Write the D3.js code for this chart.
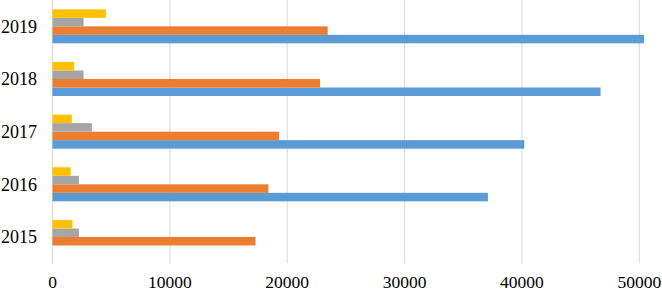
<!DOCTYPE html>
<html>
<head>
  <meta charset="utf-8">
  <title>Bar Chart</title>
  <script src="https://d3js.org/d3.v7.min.js"></script>
  <style>
    body { margin: 0; background: white; }
  </style>
</head>
<body>
<div id="output"></div>
<script type="text/javascript">

  // data
  var years = ["2015", "2016", "2017", "2018", "2019"];
  var seriesNames = ["s1", "s2", "s3", "s4"];
  var s1 = [0, 37100, 40200, 46700, 50400];
  var s2 = [17300, 18400, 19300, 22800, 23450];
  var s3 = [2250, 2250, 3350, 2650, 2650];
  var s4 = [1700, 1550, 1650, 1850, 4550];
  var xTicks = [0, 10000, 20000, 30000, 40000, 50000];
  var colors = ["#5b9bd5", "#ed7d31", "#a5a5a5", "#ffc000"];

  var allSeries = [s1, s2, s3, s4];
  var rows = years.map(function(y, i) {
    return { year: y, values: allSeries.map(function(s, k) { return { k: k, v: s[i] }; }) };
  });

  var w = 662, h = 292;
  var plotLeft = 52.5, plotRight = 639.3, plotTop = 0, plotBottom = 263.3;
  var serif = "'Liberation Serif', 'Times New Roman', Times, serif";

  var x = d3.scaleLinear()
          .domain([0, 50000])
          .range([plotLeft, plotRight]);

  var y = d3.scaleBand()
          .domain(years.slice().reverse())
          .range([plotTop, plotBottom])
          .paddingInner(0.354)
          .paddingOuter(0.177);

  // series 1 at the bottom of each group
  var ySub = d3.scaleBand()
          .domain([3, 2, 1, 0])
          .range([0, y.bandwidth()]);

  var svg = d3.select("#output").append("svg")
          .attr("width", w)
          .attr("height", h);

  svg.append("g")
          .selectAll("line")
          .data(xTicks)
          .enter()
          .append("line")
          .attr("x1", function(d) { return x(d); })
          .attr("x2", function(d) { return x(d); })
          .attr("y1", plotTop)
          .attr("y2", plotBottom)
          .attr("stroke", "#d9d9d9")
          .attr("stroke-width", 1);

  var groups = svg.selectAll(".group")
          .data(rows)
          .enter()
          .append("g")
          .attr("class", "group")
          .attr("transform", function(d) { return "translate(0," + y(d.year) + ")"; });

  groups.selectAll("rect")
          .data(function(d) { return d.values; })
          .enter()
          .append("rect")
          .attr("x", x(0))
          .attr("y", function(d) { return ySub(d.k); })
          .attr("height", ySub.bandwidth())
          .attr("width", function(d) { return x(d.v) - x(0); })
          .attr("fill", function(d) { return colors[d.k]; });

  svg.append("g")
          .selectAll("text")
          .data(years)
          .enter()
          .append("text")
          .attr("x", 37)
          .attr("y", function(d) { return y(d) + y.bandwidth() / 2; })
          .attr("dy", "0.35em")
          .attr("text-anchor", "end")
          .attr("font-family", serif)
          .attr("font-size", "18px")
          .attr("fill", "#000")
          .text(function(d) { return d; });

  svg.append("g")
          .selectAll("text")
          .data(xTicks)
          .enter()
          .append("text")
          .attr("x", function(d) { return x(d); })
          .attr("y", 288)
          .attr("text-anchor", "middle")
          .attr("font-family", serif)
          .attr("font-size", "17.5px")
          .attr("fill", "#000")
          .text(function(d) { return d; });

</script>
</body>
</html>
